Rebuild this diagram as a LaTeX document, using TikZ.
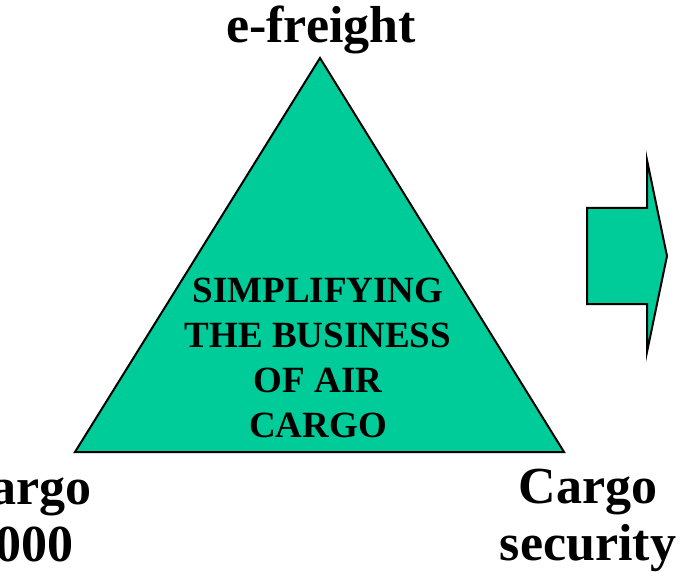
\documentclass[tikz,border=0pt]{standalone}
\usepackage{fontspec}
\setmainfont{Liberation Serif}
\usetikzlibrary{positioning}
\definecolor{seagreen}{RGB}{0,204,153}
\tikzstyle{greenfill} = [draw=black, line width=2pt, fill=seagreen, line join=miter]
\tikzstyle{cornertext} = [font=\bfseries\fontsize{52}{57}\selectfont, align=center, inner sep=0pt]
\tikzstyle{centertext} = [font=\bfseries\fontsize{37}{45}\selectfont, align=center, inner sep=0pt]

\begin{document}
\begin{tikzpicture}[x=1pt, y=-1pt]

    \useasboundingbox (0, 0) rectangle (680, 580);

    \coordinate (apex) at (320, 58);
    \coordinate (baseL) at (75, 452);
    \coordinate (baseR) at (564, 452);
    \draw [greenfill] (apex) -- (baseL) -- (baseR) -- cycle;

    \draw [greenfill] (587, 208) -- (647, 208) -- (647, 160) -- (667, 256)
        -- (647, 352) -- (647, 304) -- (587, 304) -- cycle;

    % base anchor of a multi-line node is the last line
    \node (freight) [cornertext, anchor=base] at (321, 43) {e-freight};
    \node (ctwok) [cornertext, anchor=base] at (22, 561) {Cargo\\2000};
    \node (security) [cornertext, anchor=base] at (588, 560) {Cargo\\security};
    \node (simplify) [centertext, anchor=base] at (318, 437) {SIMPLIFYING\\THE BUSINESS\\OF AIR\\CARGO};

\end{tikzpicture}
\end{document}
